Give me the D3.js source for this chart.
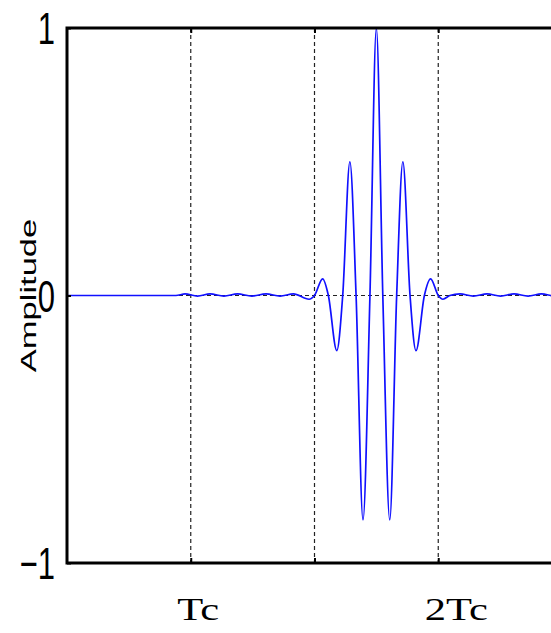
<!DOCTYPE html>
<html>
<head>
<meta charset="utf-8">
<script src="https://cdn.jsdelivr.net/npm/d3@7"></script>
<style>
  html, body { margin: 0; padding: 0; background: #fff; }
  svg { display: block; }
</style>
</head>
<body>
<svg id="chart"></svg>
<script>
// time in units of Tc
const tValues = [
  0.5, 0.94, 0.977, 1.027, 1.078, 1.134, 1.189, 1.247, 1.304, 1.361, 1.415,
  1.478, 1.5, 1.533, 1.556, 1.59, 1.614, 1.643, 1.668, 1.696, 1.724, 1.75,
  1.776, 1.804, 1.832, 1.857, 1.886, 1.91, 1.944, 1.969, 2.0, 2.019, 2.047,
  2.088, 2.142, 2.197, 2.252, 2.306, 2.363, 2.417, 2.472, 2.5
]
const amplitude = [
  0, 0, 0.006, -0.002, 0.006, -0.002, 0.006, -0.002, 0.006, -0.002, 0.006,
  -0.014, 0, 0.062, 0, -0.206, 0, 0.5, 0, -0.839, 0, 1.0,
  0, -0.839, 0, 0.5, 0, -0.206, 0, 0.062, 0, -0.014, 0,
  0.006, -0.002, 0.006, -0.002, 0.006, -0.002, 0.006, -0.002, 0
]

const xTicks = [1, 1.5, 2]
const xTickLabels = ['Tc', '', '2Tc']
const yTicks = [-1, 0, 1]
const yTickLabels = ['\u22121', '0', '1']
const yLabel = 'Amplitude'

const W = 551, H = 633
const margin = { top: 28, left: 67 }
const width = 495
const height = 535

const svg = d3.select('#chart')
  .attr('width', W)
  .attr('height', H)

const g = svg.append('g')
  .attr('transform', 'translate(' + margin.left + ',' + margin.top + ')')

const x = d3.scaleLinear().domain([0.5, 2.5]).range([0, width])
const y = d3.scaleLinear().domain([-1, 1]).range([height, 0])

// GRID
g.append('g')
  .selectAll('line')
  .data(xTicks)
  .enter()
  .append('line')
  .attr('x1', d => x(d)).attr('x2', d => x(d))
  .attr('y1', 0).attr('y2', height)
  .attr('stroke', '#222')
  .attr('stroke-width', 1.2)
  .attr('stroke-dasharray', '4,3')

g.append('line')
  .attr('x1', 0).attr('x2', width)
  .attr('y1', y(0)).attr('y2', y(0))
  .attr('stroke', '#222')
  .attr('stroke-width', 1.2)
  .attr('stroke-dasharray', '4,3')

// SIGNAL
const pts = tValues.map((t, i) => ({ t: t, a: amplitude[i] }))
const line = d3.line()
  .x(d => x(d.t))
  .y(d => y(d.a))
  .curve(d3.curveMonotoneX)

g.append('path')
  .datum(pts)
  .attr('fill', 'none')
  .attr('stroke', '#1010ff')
  .attr('stroke-width', 1.7)
  .attr('d', line)

// AXES
const xAxis = d3.axisBottom(x)
  .tickValues(xTicks)
  .tickSize(-5)
  .tickFormat((d, i) => xTickLabels[i])

const gx = g.append('g')
  .attr('transform', 'translate(0,' + height + ')')
  .call(xAxis)
gx.select('.domain').remove()
gx.selectAll('line').attr('stroke', '#000').attr('stroke-width', 2)
gx.selectAll('text')
  .attr('x', 0)
  .attr('y', 57)
  .attr('dy', 0)
  .attr('text-anchor', 'start')
  .attr('transform', 'translate(-14,0) scale(1.33,1)')
  .attr('font-family', 'Liberation Serif')
  .attr('font-size', 32)
  .style('font-family', '"Liberation Serif", serif')
  .style('font-size', '32px')
  .attr('fill', '#000')

const xTop = d3.axisTop(x).tickValues(xTicks).tickSize(-5).tickFormat('')
const gt = g.append('g').call(xTop)
gt.select('.domain').remove()
gt.selectAll('line').attr('stroke', '#000').attr('stroke-width', 2)

const yAxis = d3.axisLeft(y)
  .tickValues(yTicks)
  .tickSize(-4)
  .tickFormat((d, i) => yTickLabels[i])

const gy = g.append('g').call(yAxis)
gy.select('.domain').remove()
gy.selectAll('line').attr('stroke', '#000').attr('stroke-width', 2)
gy.selectAll('text')
  .attr('x', 0)
  .attr('dy', '0.35em')
  .attr('text-anchor', 'end')
  .attr('transform', 'translate(-12,0) scale(1,1.45)')
  .style('font-family', '"Liberation Sans", Arial, sans-serif')
  .style('font-size', '31px')
  .attr('fill', '#000')

// box
g.append('rect')
  .attr('x', 0).attr('y', 0)
  .attr('width', width).attr('height', height)
  .attr('fill', 'none')
  .attr('stroke', '#000')
  .attr('stroke-width', 3)

// y label
svg.append('text')
  .attr('transform', 'translate(36,' + (margin.top + y(0)) + ') rotate(-90) scale(1.5,1)')
  .attr('text-anchor', 'middle')
  .style('font-family', '"Liberation Sans", Arial, sans-serif')
  .style('font-size', '23px')
  .attr('fill', '#000')
  .text(yLabel)
</script>
</body>
</html>
